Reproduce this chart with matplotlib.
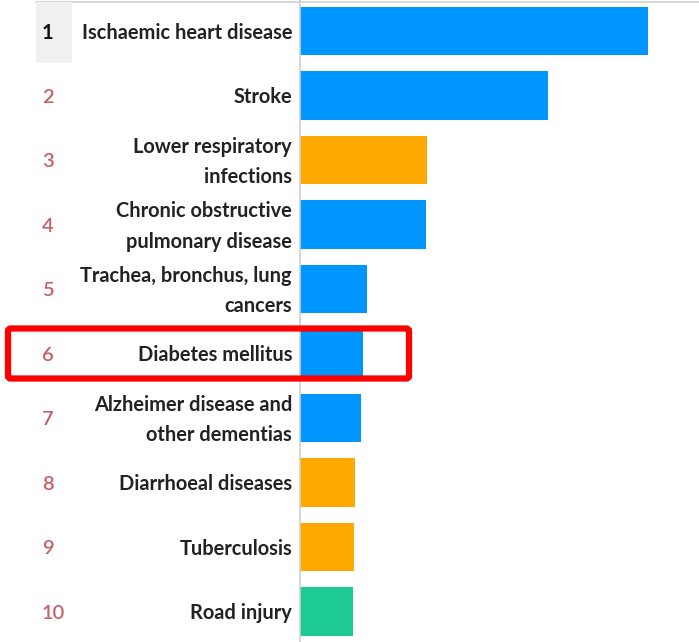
import matplotlib
matplotlib.use("Agg")
import matplotlib.pyplot as plt
from matplotlib.patches import FancyBboxPatch, Rectangle
from matplotlib.transforms import blended_transform_factory

# Top 10 global causes of death (millions of deaths)
ranks = ["1", "2", "3", "4", "5", "6", "7", "8", "9", "10"]
causes = [
    "Ischaemic heart disease",
    "Stroke",
    "Lower respiratory\ninfections",
    "Chronic obstructive\npulmonary disease",
    "Trachea, bronchus, lung\ncancers",
    "Diabetes mellitus",
    "Alzheimer disease and\nother dementias",
    "Diarrhoeal diseases",
    "Tuberculosis",
    "Road injury",
]
deaths = [8.76, 6.24, 3.19, 3.17, 1.69, 1.59, 1.54, 1.39, 1.37, 1.34]
groups = ["ncd", "ncd", "comm", "ncd", "ncd", "ncd", "ncd", "comm", "comm", "injury"]

group_colors = {"ncd": "#0096FF", "comm": "#FFA800", "injury": "#1DC995"}
highlight = "Diabetes mellitus"

W, H = 699, 642
fig = plt.figure(figsize=(W / 100, H / 100), dpi=100)
fig.patch.set_facecolor("white")

ax_left = 300
ax = fig.add_axes([ax_left / W, 0, (W - ax_left) / W, 1])
ax.patch.set_alpha(0)
px_per_unit = 39.7
ax.set_xlim(0, (W - ax_left) / px_per_unit)
row_step = 64.5
first_center = 31
ax.set_ylim((H - first_center) / row_step, -first_center / row_step)

ypos = list(range(len(causes)))
ax.barh(ypos, deaths, height=0.745, color=[group_colors[g] for g in groups], zorder=2)

for s in ["top", "right", "bottom"]:
    ax.spines[s].set_visible(False)
ax.spines["left"].set_color("#d0d0d0")
ax.spines["left"].set_linewidth(1.2)
ax.set_xticks([])
ax.set_yticks([])

label_font = dict(family="Lato", fontweight="bold", fontsize=14.4,
                  color="#222222")
trans = blended_transform_factory(ax.transAxes, ax.transData)
axw = W - ax_left

# Grey cell behind the leading rank
fig.patches.append(Rectangle((36 / W, 1 - 63 / H), 36 / W, 61 / H,
                             transform=fig.transFigure, facecolor="#f0f0f0",
                             edgecolor="none", zorder=-1))
# Thin rule along the top
fig.lines.append(plt.Line2D([36 / W, 1], [1 - 1.5 / H, 1 - 1.5 / H],
                            transform=fig.transFigure, color="#d8d8d8", lw=1.5,
                            zorder=-1))

for y, r, c in zip(ypos, ranks, causes):
    ax.text(-8 / axw, y + 0.03, c, transform=trans, ha="right", va="center",
            linespacing=1.65, clip_on=False, **label_font)
    ax.text((42 - ax_left) / axw, y + 0.03, r, transform=trans, ha="left",
            va="center", family="Lato",
            fontweight="bold" if r == "1" else "semibold",
            fontsize=14.5, color="#111111" if r == "1" else "#C95F66",
            clip_on=False, zorder=5)

# Red frame around the highlighted cause
hi = causes.index(highlight)
yc = H - (first_center + row_step * hi)
box = FancyBboxPatch((8 / W, (yc - 25) / H), 401 / W, 50 / H,
                     boxstyle="round,pad=0,rounding_size=0.004",
                     transform=fig.transFigure, facecolor="none",
                     edgecolor="#FF0000", linewidth=4.5, zorder=10)
fig.patches.append(box)

fig.savefig("out.png", dpi=100, facecolor="white")
